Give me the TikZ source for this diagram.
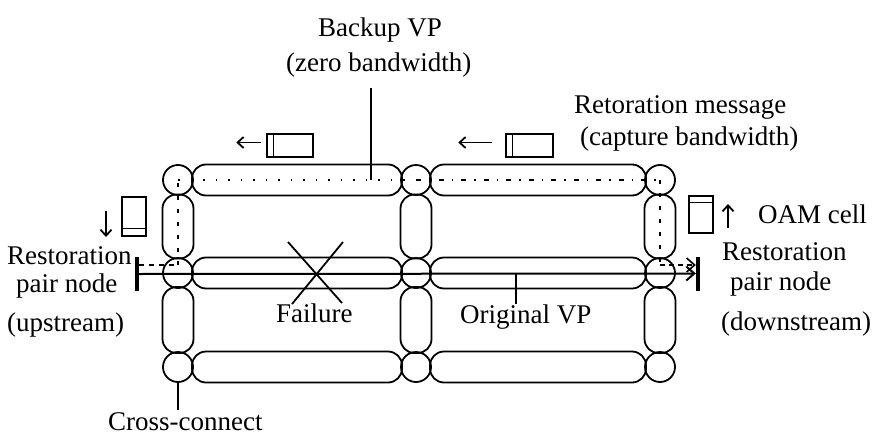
\documentclass[tikz,border=0pt]{standalone}
\usepackage{fontspec}
\setmainfont{Liberation Serif}
\usetikzlibrary{arrows.meta}

\tikzset{
  xconn/.style={circle, draw, line width=1.8pt, minimum size=30pt, inner sep=0pt},
  hlink/.style={draw, line width=1.8pt, rounded corners=14pt, minimum height=31pt, inner sep=0pt},
  vlink/.style={draw, line width=1.8pt, rounded corners=14pt, minimum width=31pt, inner sep=0pt},
  lbl/.style={font=\fontsize{27}{31}\selectfont, inner sep=0pt, anchor=base west},
  cellbox/.style={draw, line width=1.5pt, inner sep=0pt},
  msgarrow/.style={line width=1.8pt, -{Straight Barb[length=6pt,width=11pt,line width=1.8pt]}},
  leader/.style={line width=1.5pt},
  bar/.style={fill=black, inner sep=0pt, minimum width=4pt, minimum height=34pt},
  vpline/.style={line width=2pt},
  backup/.style={line width=1.6pt},
}

\begin{document}
\begin{tikzpicture}[x=1pt, y=-1pt]
\useasboundingbox (0,0) rectangle (878,442);

% cross-connect nodes (3 columns x 3 rows)
\foreach \c/\x in {1/178, 2/416, 3/660}
  \foreach \r/\y in {1/180, 2/273, 3/367}
    \node[xconn] (c\c\r) at (\x,\y) {};

% horizontal links
\foreach \r/\y in {1/180, 2/273, 3/367} {
  \node[hlink, minimum width=210pt] (ha\r) at (297,\y) {};
  \node[hlink, minimum width=216pt] (hb\r) at (538,\y) {};
}
% vertical links
\foreach \c/\x in {1/178, 2/416, 3/660} {
  \node[vlink, minimum height=64pt] (va\c) at (\x,226.5) {};
  \node[vlink, minimum height=66pt] (vb\c) at (\x,320) {};
}

% restoration pair end bars
\node[bar] (lbar) at (137,274) {};
\node[bar] (rbar) at (698,273.5) {};

% original VP
\draw[vpline, -{Straight Barb[length=8pt,width=14pt]}] (lbar.center) -- (rbar.west);

% backup VP route
\coordinate (bl) at (178,265);
\coordinate (br) at (660,265);
\draw[backup, dash pattern=on 5pt off 5pt] (lbar.east |- bl) -- (bl);
\draw[backup, dash pattern=on 4pt off 9pt] (bl) -- (c11.center);
\draw[backup, dash pattern=on 1.5pt off 11pt] (c11.center) -- (c21.center);
\draw[backup, dash pattern=on 5pt off 8pt on 1.5pt off 8pt] (c21.center) -- (c31.center);
\draw[backup, dash pattern=on 4pt off 9pt] (c31.center) -- (br);
\draw[backup, dash pattern=on 5pt off 4pt, -{Straight Barb[length=8pt,width=14pt]}] (br) -- (rbar.west |- br);

% failure mark
\draw[line width=1.8pt] (288,242) -- (342,303) (343,242) -- (292,304);

% restoration message cells
\node[cellbox, minimum width=46pt, minimum height=23pt] (cellA) at (290,145.5) {};
\draw[line width=1.3pt] ([xshift=7pt]cellA.north west) -- ([xshift=7pt]cellA.south west);
\draw[msgarrow] ([xshift=-5pt,yshift=3pt]cellA.west) -- ++(-25,0);

\node[cellbox, minimum width=47pt, minimum height=23pt] (cellB) at (529.5,145.5) {};
\draw[line width=1.3pt] ([xshift=7pt]cellB.north west) -- ([xshift=7pt]cellB.south west);
\draw[msgarrow] ([xshift=-13pt,yshift=3pt]cellB.west) -- ++(-34,0);

% OAM cells
\node[cellbox, minimum width=24pt, minimum height=39pt] (cellL) at (134,216.5) {};
\draw[line width=1.3pt] ([yshift=8pt]cellL.south west) -- ([yshift=8pt]cellL.south east);
\draw[msgarrow] (106,211) -- (106,237);

\node[cellbox, minimum width=24pt, minimum height=37pt] (cellR) at (701,214.5) {};
\draw[line width=1.3pt] ([yshift=-7pt]cellR.north west) -- ([yshift=-7pt]cellR.north east);
\draw[msgarrow] (728,228) -- (728,204);

% labels
\node[lbl] (bk1) at (318,36) {Backup VP};
\node[lbl] (bk2) at (286,71) {(zero bandwidth)};
\node[lbl] (rm1) at (574,113) {Retoration message};
\node[lbl] (rm2) at (580,145) {(capture bandwidth)};
\node[lbl] (oam) at (758,223) {OAM cell};
\node[lbl] (ru1) at (7,264) {Restoration};
\node[lbl] (ru2) at (16,292) {pair node};
\node[lbl] (ru3) at (7,331) {(upstream)};
\node[lbl] (rd1) at (722,260) {Restoration};
\node[lbl] (rd2) at (730,290) {pair node};
\node[lbl] (rd3) at (721,330) {(downstream)};
\node[lbl] (fail) at (276,322) {Failure};
\node[lbl] (orig) at (460,323) {Original VP};
\node[lbl] (xc) at (108,430) {Cross-connect};

% leader lines
\coordinate (bkfoot) at (371,180);
\coordinate (ovfoot) at (516,273);
\draw[leader] (bkfoot |- 0,88) -- (bkfoot);
\draw[leader] (ovfoot) -- (ovfoot |- orig.north);
\draw[leader] (c13.south) -- (c13.south |- 0,410);
\end{tikzpicture}
\end{document}
